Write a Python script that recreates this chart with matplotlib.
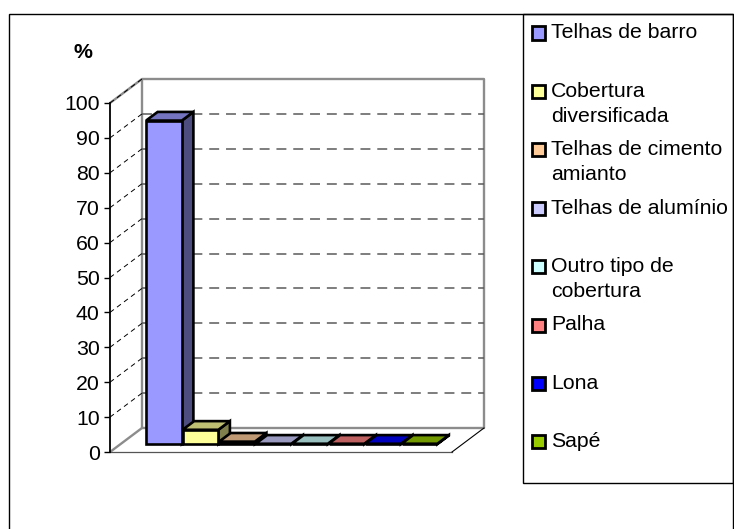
import matplotlib
matplotlib.use('Agg')
import matplotlib.pyplot as plt
from matplotlib.patches import Polygon, Rectangle
from matplotlib.colors import to_rgb

categories = ["Telhas de barro", "Cobertura\ndiversificada", "Telhas de cimento\namianto",
              "Telhas de alumínio", "Outro tipo de\ncobertura", "Palha", "Lona", "Sapé"]
values = [92.7, 4.1, 0.7, 0.1, 0.1, 0.1, 0.1, 0.1]
colors = ["#9999FF", "#FFFF99", "#FFCC99", "#CCCCFF", "#CCFFFF", "#FF8080", "#0000FF", "#99CC00"]
y_ticks = list(range(0, 101, 10))
y_label = "%"

plt.rcParams['font.family'] = ['Liberation Sans', 'DejaVu Sans']
W, H = 734, 529
FS = 15.3
fig = plt.figure(figsize=(W / 100, H / 100), dpi=100)

def fx(px):
    return px / W

def fy(py):
    return 1 - py / H

# front plane of the 3D box (pixels)
L, R, T, B = 110, 452, 103, 452
PITCH = 36.5                       # px per bar slot
XMIN = -0.7
XMAX = XMIN + (R - L) / PITCH
ax = fig.add_axes([fx(L), fy(B), (R - L) / W, (B - T) / H])
ax.set_xlim(XMIN, XMAX)
ax.set_ylim(0, 100)
ax.patch.set_visible(False)
DX = 32 / PITCH                    # depth offset (x units)
DY = 24 / ((B - T) / 100)          # depth offset (y units)

for s in ('top', 'right', 'bottom'):
    ax.spines[s].set_visible(False)
ax.spines['left'].set_color('black')
ax.spines['left'].set_linewidth(1.3)
ax.set_xticks([])
ax.set_yticks(y_ticks)
ax.tick_params(axis='y', direction='out', length=4.5, width=1.0, pad=3, labelsize=FS, color='black')

wall = dict(color='#8c8c8c', lw=1.7, zorder=1, clip_on=False, solid_capstyle='butt')
# back wall
ax.plot([XMIN + DX, XMAX + DX, XMAX + DX, XMIN + DX, XMIN + DX],
        [DY, DY, 100 + DY, 100 + DY, DY], **wall)
# side wall
ax.plot([XMIN, XMIN + DX], [100, 100 + DY], **wall)
ax.plot([XMIN, XMIN + DX], [0, DY], **wall)
# floor
ax.plot([XMIN, XMAX], [0, 0], color='#555555', lw=0.9, zorder=1, clip_on=False)
ax.plot([XMAX, XMAX + DX], [0, DY], color='black', lw=0.8, zorder=1, clip_on=False)

# gridlines
for v in y_ticks[1:-1]:
    ax.plot([XMIN + DX, XMAX + DX], [v + DY, v + DY], color='#5a5a5a', lw=1.1,
            dashes=(6.5, 4.5), zorder=1, clip_on=False)
for v in y_ticks[1:]:
    ax.plot([XMIN, XMIN + DX], [v, v + DY], color='black', lw=0.7,
            dashes=(5, 4), zorder=1, clip_on=False)

# 3D bars
d0, d1 = 0.33, 0.69
bw = 0.98
for i, (v, c) in enumerate(zip(values, colors)):
    rgb = to_rgb(c)
    top_c = tuple(k * 0.75 for k in rgb)
    side_c = tuple(k * 0.5 for k in rgb)
    x0 = i + d0 * DX
    y0 = d0 * DY
    ddx = (d1 - d0) * DX
    ddy = (d1 - d0) * DY
    front = [(x0, y0), (x0 + bw, y0), (x0 + bw, y0 + v), (x0, y0 + v)]
    top = [(x0, y0 + v), (x0 + bw, y0 + v), (x0 + bw + ddx, y0 + v + ddy), (x0 + ddx, y0 + v + ddy)]
    side = [(x0 + bw, y0), (x0 + bw + ddx, y0 + ddy), (x0 + bw + ddx, y0 + v + ddy), (x0 + bw, y0 + v)]
    for poly, col in ((side, side_c), (top, top_c), (front, rgb)):
        ax.add_patch(Polygon(poly, closed=True, facecolor=col, edgecolor='black',
                             lw=1.9, joinstyle='miter', zorder=3 + i, clip_on=False))

# "%" label
fig.text(fx(83), fy(52), y_label, fontsize=FS, fontweight='bold', ha='center', va='center')

# outer frame
fig.patches.append(Rectangle((fx(9), fy(540)), fx(733) - fx(9), fy(14) - fy(540),
                             transform=fig.transFigure, fill=False, edgecolor='black', lw=1.0))
# legend box
fig.patches.append(Rectangle((fx(523), fy(483)), fx(733) - fx(523), fy(14) - fy(483),
                             transform=fig.transFigure, fill=False, edgecolor='black', lw=1.0))
for i, (lab, c) in enumerate(zip(categories, colors)):
    yc = 33 + i * 58.4
    fig.patches.append(Rectangle((fx(532), fy(yc + 6.5)), 13 / W, 13 / H,
                                 transform=fig.transFigure, facecolor=c,
                                 edgecolor='black', lw=2.0))
    for k, line in enumerate(lab.split('\n')):
        fig.text(fx(551), fy(yc + k * 25), line, fontsize=FS, ha='left', va='center')

fig.savefig('out.png', dpi=100)
